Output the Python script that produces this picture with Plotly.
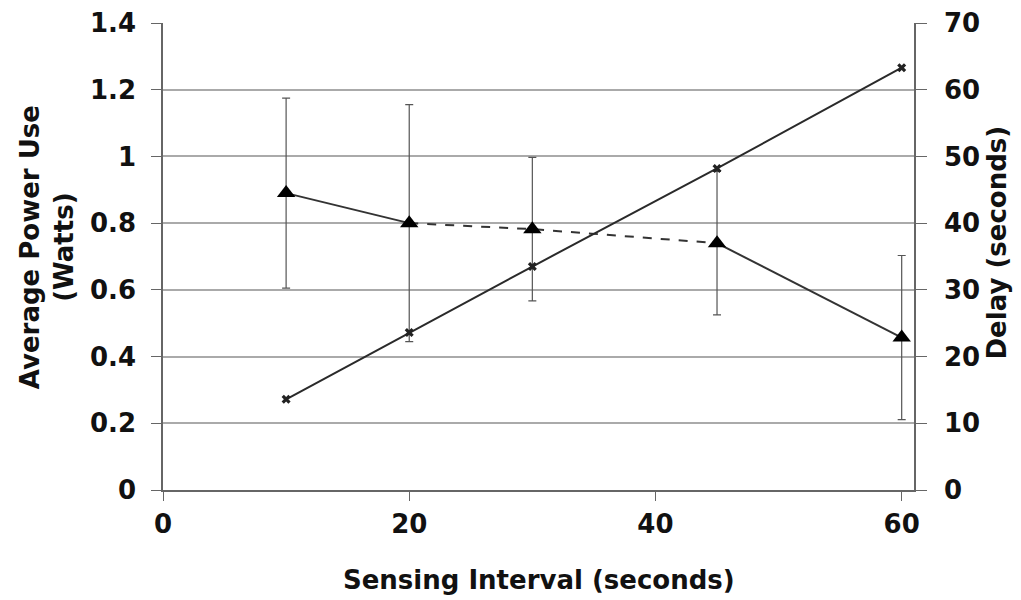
import plotly.graph_objects as go

# Data
interval = [10, 20, 30, 45, 60]                  # Sensing Interval (seconds)
power = [0.89, 0.80, 0.782, 0.74, 0.457]         # Average Power Use (Watts)
power_err = [0.285, 0.355, 0.215, 0.215, 0.246]  # error bar half-widths (Watts)
delay = [13.6, 23.6, 33.5, 48.2, 63.3]           # Delay (seconds)

x_ticks = [0, 20, 40, 60]
y1_ticks = [0, 0.2, 0.4, 0.6, 0.8, 1.0, 1.2, 1.4]
y1_labels = ["0", "0.2", "0.4", "0.6", "0.8", "1", "1.2", "1.4"]
y2_ticks = [0, 10, 20, 30, 40, 50, 60, 70]

FONT = "DejaVu Sans, Liberation Sans, sans-serif"
fig = go.Figure()

# Delay line (right axis)
fig.add_trace(go.Scatter(
    x=interval, y=delay, yaxis="y2", mode="lines+markers",
    line=dict(color="#2a2a2a", width=2),
    marker=dict(symbol="x", size=8, color="#222222"),
    showlegend=False))

# Power line segments (solid / dashed / solid)
segs = [(0, 2, "solid"), (1, 4, "dash"), (3, 5, "solid")]
for a, b, dash in segs:
    fig.add_trace(go.Scatter(
        x=interval[a:b], y=power[a:b], mode="lines",
        line=dict(color="#333333", width=2, dash=dash),
        showlegend=False, hoverinfo="skip"))

# Power markers with error bars
fig.add_trace(go.Scatter(
    x=interval, y=power, mode="markers",
    marker=dict(symbol="triangle-up", size=16, color="black"),
    error_y=dict(type="data", array=power_err, visible=True,
                 color="#555555", thickness=1.2, width=4),
    showlegend=False))

tickfont = dict(family=FONT, size=26, color="#111111", weight="bold")

# page body has an 8px margin, so offsets are compensated in the margins
fig.update_layout(
    width=1021, height=600,
    margin=dict(l=155, r=115, t=15, b=118, autoexpand=False),
    paper_bgcolor="white", plot_bgcolor="white",
    xaxis=dict(range=[0, 61], tickvals=x_ticks, ticks="outside", ticklen=9,
               tickcolor="#666666", showline=True, linecolor="#666666",
               linewidth=1.5, showgrid=False, zeroline=False, automargin=False,
               tickfont=tickfont, ticklabelstandoff=1, ticklabeloverflow="allow"),
    yaxis=dict(range=[0, 1.4], tickvals=y1_ticks, ticktext=y1_labels,
               ticks="outside", ticklen=10, tickcolor="#666666",
               showline=True, linecolor="#666666", linewidth=1.5,
               showgrid=True, gridcolor="#aaaaaa", gridwidth=2, automargin=False,
               zeroline=False, tickfont=tickfont, ticklabelstandoff=10,
               ticklabeloverflow="allow"),
    yaxis2=dict(range=[0, 70], tickvals=y2_ticks, overlaying="y", side="right",
                ticks="outside", ticklen=11, tickcolor="#666666",
                showline=True, linecolor="#666666", linewidth=1.5, automargin=False,
                showgrid=False, zeroline=False, tickfont=tickfont,
                ticklabelstandoff=12, ticklabeloverflow="allow"),
)

titlefont = dict(family=FONT, size=26, color="#111111")
fig.add_annotation(text="<b>Sensing Interval (seconds)</b>", xref="paper", yref="paper",
                   x=0.5, y=(490 - 580) / 469, xanchor="center", yanchor="middle",
                   showarrow=False, font=titlefont)
fig.add_annotation(text="<b>Average Power Use</b><br><b>(Watts)</b>", xref="paper", yref="paper",
                   x=(47 - 163) / 751, y=0.52, xanchor="center", yanchor="middle",
                   textangle=-90, showarrow=False, font=titlefont)
fig.add_annotation(text="<b>Delay (seconds)</b>", xref="paper", yref="paper",
                   x=(997 - 163) / 751, y=0.53, xanchor="center", yanchor="middle",
                   textangle=-90, showarrow=False, font=titlefont)

fig.write_html("out.html")
